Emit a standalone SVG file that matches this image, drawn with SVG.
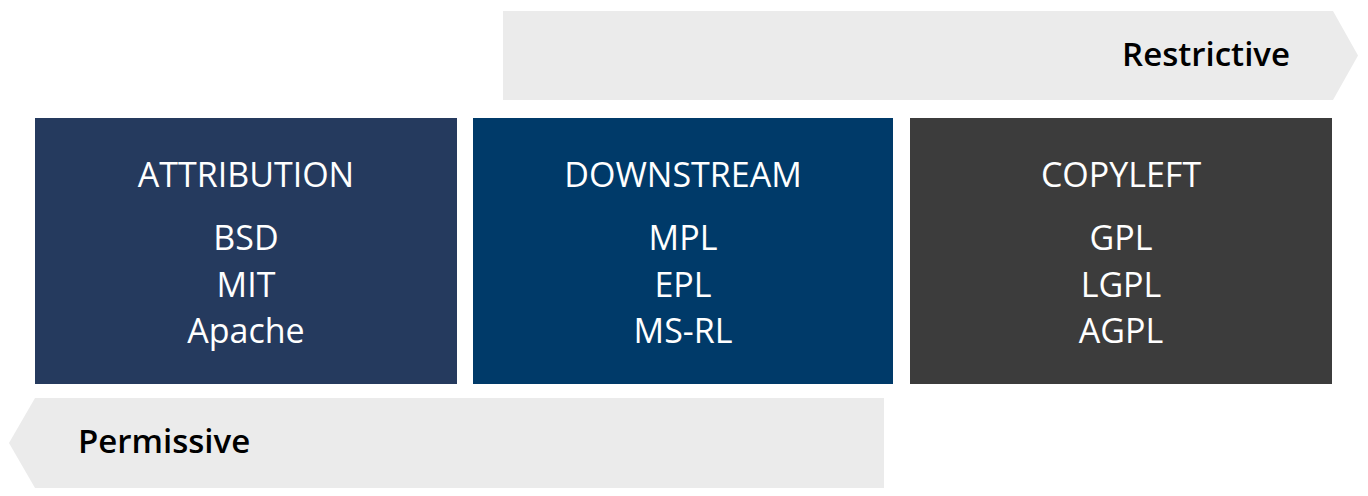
<svg xmlns="http://www.w3.org/2000/svg" width="1368" height="496" viewBox="0 0 1368 496">
<style>
.arrow{fill:#EBEBEB}
.albl{font-family:"Open Sans","Noto Sans",sans-serif;font-weight:600;font-size:33px;fill:#000}
.t{font-family:"Open Sans","Noto Sans",sans-serif;font-size:34px;fill:#fff;text-anchor:middle}
</style>
<rect width="1368" height="496" fill="#fff"/>
<g id="connectors">
<g id="restrictive-arrow">
<polygon class="arrow" points="503,11 1333,11 1358,55.5 1333,100 503,100"/>
<text class="albl" x="1290" y="66" text-anchor="end">Restrictive</text>
</g>
<g id="permissive-arrow">
<polygon class="arrow" points="884,398 35,398 9,443 35,488 884,488"/>
<text class="albl" x="78" y="453">Permissive</text>
</g>
</g>
<g id="attribution">
<rect x="35" y="118" width="422" height="266" fill="#253A5E"/>
<text class="t" x="246" y="187">ATTRIBUTION</text>
<text class="t" x="246" y="250">BSD</text>
<text class="t" x="246" y="297">MIT</text>
<text class="t" x="246" y="343">Apache</text>
</g>
<g id="downstream">
<rect x="473" y="118" width="420" height="266" fill="#003A69"/>
<text class="t" x="683" y="187">DOWNSTREAM</text>
<text class="t" x="683" y="250">MPL</text>
<text class="t" x="683" y="297">EPL</text>
<text class="t" x="683" y="343">MS-RL</text>
</g>
<g id="copyleft">
<rect x="910" y="118" width="422" height="266" fill="#3C3C3C"/>
<text class="t" x="1121" y="187">COPYLEFT</text>
<text class="t" x="1121" y="250">GPL</text>
<text class="t" x="1121" y="297">LGPL</text>
<text class="t" x="1121" y="343">AGPL</text>
</g>
</svg>
